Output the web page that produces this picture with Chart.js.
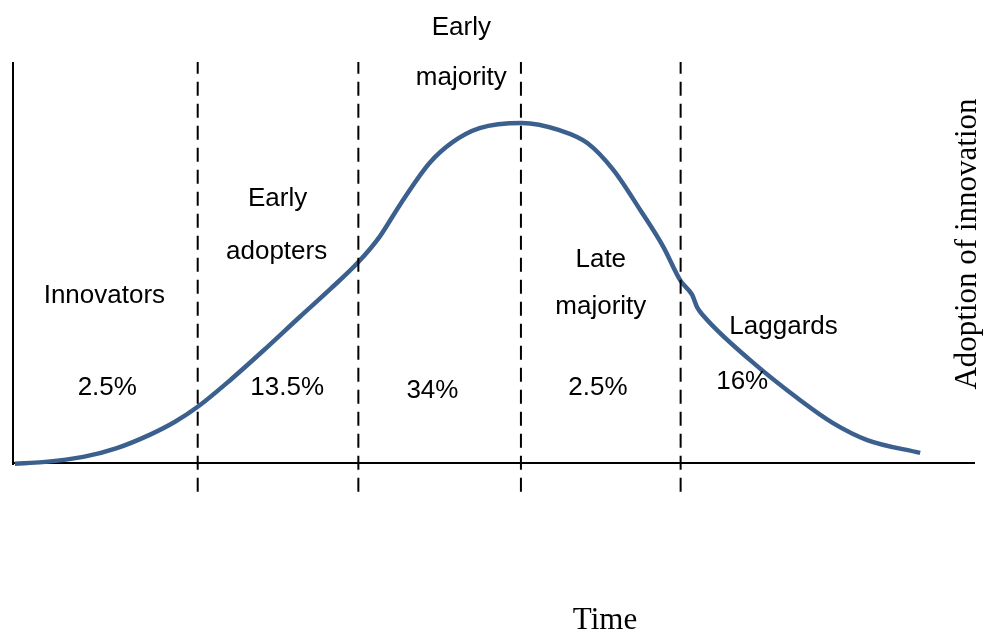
<!DOCTYPE html>
<html>
<head>
<meta charset="utf-8">
<title>Adoption of innovation</title>
<script src="https://cdn.jsdelivr.net/npm/chart.js@4.4.1/dist/chart.umd.min.js"></script>
<style>
  body { margin: 0; background: #fff; }
  #wrap { width: 984px; height: 634px; }
</style>
</head>
<body>
<div id="wrap"><canvas id="chart"></canvas></div>
<script>
// time (0-100) and adoption (0-100)
const timeX = [0.2, 3.1, 7.3, 10.8, 14.2, 16.8, 19.2, 22.6, 26.2, 29.8, 33.0, 35.9, 38.1, 40.2, 43.3, 45.7, 48.5,
    52.9, 56.8, 59.7, 62.4, 65.2, 67.6, 69.4, 70.6, 71.1, 71.7, 76.6, 81.8, 85.2, 88.8, 94.3];
const adoption = [-0.2, 0.2, 1.5, 3.7, 7.0, 10.2, 14.0, 20.7, 28.4, 36.4, 43.4, 50.1, 56.4, 64.3, 74.8, 80.0, 83.5,
    84.8, 83.0, 79.8, 73.1, 63.1, 53.9, 45.4, 41.9, 38.9, 36.9, 25.7, 15.7, 10.0, 5.7, 2.5];

// boundaries between the adopter groups
const dividerX = [19.2, 35.9, 52.8, 69.4];

// group labels and shares
const labelText = ['Innovators', '2.5%', 'Early', 'adopters', '13.5%', 'Early', 'majority', '34%',
    'Late', 'majority', '2.5%', 'Laggards', '16%'];
const labelX = [9.5, 9.8, 27.5, 27.4, 28.5, 46.6, 46.6, 43.6, 61.1, 61.1, 60.8, 80.1, 75.8];
const labelY = [41.6, 18.7, 65.8, 52.6, 18.7, 108.5, 96.0, 18.0, 50.6, 38.9, 18.7, 33.9, 20.2];

const xTitle = 'Time';
const yTitle = 'Adoption of innovation';

const curve = timeX.map((x, i) => ({ x: x, y: adoption[i] }));

const datasets = [];
dividerX.forEach(d => {
    datasets.push({
        data: [{ x: d, y: -7.2 }, { x: d, y: 100 }],
        borderColor: '#000',
        borderWidth: 2,
        borderDash: [14, 8],
        order: 0
    });
});
datasets.push({
    data: curve,
    borderColor: '#3c608e',
    borderWidth: 4.5,
    cubicInterpolationMode: 'monotone',
    order: 1
});
// axis lines
datasets.push({
    data: [{ x: 0, y: -0.5 }, { x: 0, y: 100 }],
    borderColor: '#000',
    borderWidth: 2,
    order: 2
});
datasets.push({
    data: [{ x: 0, y: 0 }, { x: 100, y: 0 }],
    borderColor: '#000',
    borderWidth: 2,
    order: 2
});

const textPlugin = {
    id: 'texts',
    afterDatasetsDraw(chart) {
        const ctx = chart.ctx;
        const xs = chart.scales.x;
        const ys = chart.scales.y;
        ctx.save();
        ctx.fillStyle = '#000';
        ctx.textAlign = 'center';
        ctx.textBaseline = 'middle';
        ctx.font = '26px "Liberation Sans", Arial, sans-serif';
        labelText.forEach((t, i) => {
            ctx.fillText(t, xs.getPixelForValue(labelX[i]), ys.getPixelForValue(labelY[i]));
        });

        ctx.font = '31px "Liberation Serif", "Times New Roman", serif';
        ctx.fillText(xTitle, 605, 621);

        ctx.translate(968, 244);
        ctx.rotate(-Math.PI / 2);
        ctx.fillText(yTitle, 0, 0);
        ctx.restore();
    }
};

new Chart(document.getElementById('chart'), {
    type: 'scatter',
    data: { datasets },
    options: {
        responsive: true,
        maintainAspectRatio: false,
        animation: false,
        layout: { padding: { left: 13, right: 9, top: 62, bottom: 141 } },
        elements: {
            point: { radius: 0, hoverRadius: 0 },
            line: { fill: false }
        },
        datasets: { scatter: { showLine: true, clip: false } },
        plugins: { legend: { display: false }, tooltip: { enabled: false } },
        scales: {
            x: { type: 'linear', min: 0, max: 100, display: false },
            y: { type: 'linear', min: -7.5, max: 100, display: false }
        }
    },
    plugins: [textPlugin]
});
</script>
</body>
</html>
